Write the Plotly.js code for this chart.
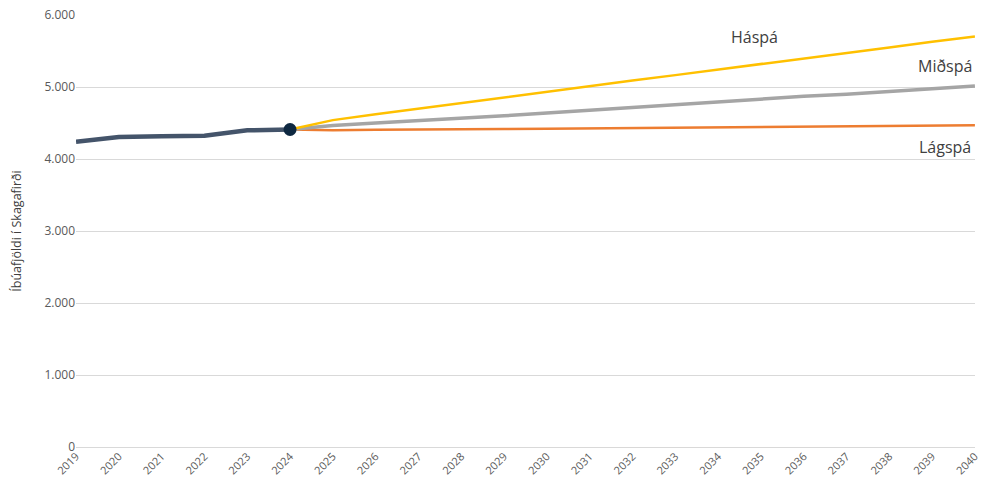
<!DOCTYPE html>
<html>
<head>
<meta charset="utf-8">
<script src="https://cdn.plot.ly/plotly-3.0.1.min.js"></script>
<style>html,body{margin:0;padding:0;background:#fff;}#chart{width:981px;height:491px;}</style>
</head>
<body>
<div id="chart"></div>
<script>
const histYears = [2019, 2020, 2021, 2022, 2023, 2024];
const histValues = [4240, 4306, 4315, 4324, 4398, 4410];
const fcYears = [2024, 2025, 2026, 2027, 2028, 2029, 2030, 2031, 2032, 2033, 2034, 2035, 2036, 2037, 2038, 2039, 2040];
const haspa = [4410, 4540, 4620, 4700, 4775, 4850, 4930, 5010, 5090, 5165, 5240, 5320, 5400, 5475, 5550, 5630, 5700];
const midspa = [4410, 4465, 4500, 4530, 4570, 4600, 4640, 4680, 4710, 4750, 4790, 4830, 4870, 4900, 4940, 4980, 5015];
const lagspa = [4410, 4400, 4405, 4405, 4410, 4415, 4420, 4425, 4428, 4432, 4436, 4440, 4445, 4450, 4455, 4460, 4468];
const tickYears = [2019, 2020, 2021, 2022, 2023, 2024, 2025, 2026, 2027, 2028, 2029, 2030, 2031, 2032, 2033, 2034, 2035, 2036, 2037, 2038, 2039, 2040];
const yTicks = [0, 1000, 2000, 3000, 4000, 5000, 6000];
const seriesNames = ['Háspá', 'Miðspá', 'Lágspá'];
const labelPos = [[2034.85, 5694], [2039.3, 5292], [2039.3, 4167]];
const yTitle = 'Íbúafjöldi í Skagafirði';

const traces = [
  {x: fcYears, y: lagspa, mode: 'lines', line: {color: '#ED7D31', width: 2.5}, name: seriesNames[2]},
  {x: fcYears, y: midspa, mode: 'lines', line: {color: '#A5A5A5', width: 3.5}, name: seriesNames[1]},
  {x: fcYears, y: haspa, mode: 'lines', line: {color: '#FFC000', width: 2.5}, name: seriesNames[0]},
  {x: histYears, y: histValues, mode: 'lines', line: {color: '#44546A', width: 4.5}, name: 'Íbúafjöldi'},
  {x: [histYears[histYears.length-1]], y: [histValues[histValues.length-1]], mode: 'markers', marker: {color: '#0E2841', size: 13}, name: '2024'}
];

const font = "'Open Sans', 'DejaVu Sans', sans-serif";
const layout = {
  width: 981, height: 491,
  margin: {l: 76, r: 6, t: 15, b: 44},
  separators: ',.',
  showlegend: false,
  plot_bgcolor: '#fff', paper_bgcolor: '#fff',
  font: {family: font, color: '#595959', size: 11},
  xaxis: {
    range: [2018.999, 2040.002], tickvals: tickYears, ticktext: tickYears.map(String),
    tickangle: -45, showgrid: false, zeroline: false, showline: false, ticks: '',
    tickfont: {size: 11, color: '#595959'}, automargin: false
  },
  yaxis: {
    range: [0, 6000], tickvals: yTicks, tickformat: ',d', showgrid: true, gridcolor: '#D9D9D9', gridwidth: 1,
    zeroline: true, zerolinecolor: '#D9D9D9', zerolinewidth: 1, showline: false, ticks: '', ticklen: 0,
    tickfont: {size: 12, color: '#595959'},
    title: {text: yTitle, font: {size: 12.5, color: '#404040'}, standoff: 20}
  },
  annotations: seriesNames.map((n, i) => ({
    x: labelPos[i][0], y: labelPos[i][1], xref: 'x', yref: 'y', text: n, showarrow: false,
    font: {size: 16, color: '#404040', family: font}, xanchor: 'center', yanchor: 'middle'
  }))
};
Plotly.newPlot('chart', traces, layout, {displayModeBar: false, staticPlot: true});
</script>
</body>
</html>
